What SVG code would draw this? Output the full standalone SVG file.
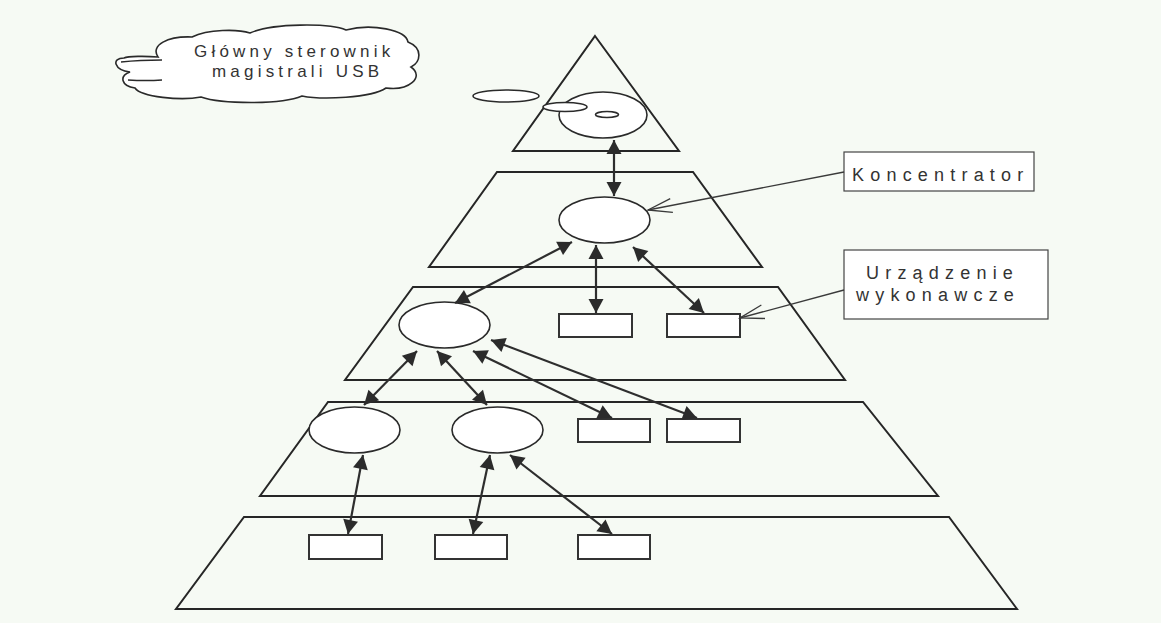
<svg xmlns="http://www.w3.org/2000/svg" width="1161" height="623" viewBox="0 0 1161 623">
  <style>
    .layer { fill: none; stroke: #262626; stroke-width: 2; stroke-linejoin: miter; }
    .node-e { fill: #ffffff; stroke: #2a2a2a; stroke-width: 1.6; }
    .node-r { fill: #ffffff; stroke: #333333; stroke-width: 2; }
    .link { fill: none; stroke: #2e2e2e; stroke-width: 2.2; marker-start: url(#head); marker-end: url(#head); }
    .pointer { fill: none; stroke: #3a3a3a; stroke-width: 1.3; marker-end: url(#open); }
    .label-box { fill: #ffffff; stroke: #444444; stroke-width: 1.2; }
    .txt { font-family: "Liberation Sans", Arial, sans-serif; fill: #333333; }
    .lbl { font-size: 18px; letter-spacing: 6.2px; }
    .cld { font-size: 17px; letter-spacing: 4.2px; }
  </style>
  <defs>
    <marker id="head" viewBox="-15 -8 16 16" refX="0" refY="0" markerWidth="16" markerHeight="16" markerUnits="userSpaceOnUse" orient="auto-start-reverse">
      <path d="M-14,-7.5 L0,0 L-14,7.5 Z" fill="#2b2b2b"/>
    </marker>
    <marker id="open" viewBox="-26 -9 28 18" refX="0" refY="0" markerWidth="28" markerHeight="18" markerUnits="userSpaceOnUse" orient="auto">
      <path d="M-24,-7 L0,0 L-24,7" fill="none" stroke="#3a3a3a" stroke-width="1.3"/>
    </marker>
  </defs>

  <rect x="0" y="0" width="1161" height="623" fill="#f6faf4"/>

  <!-- pyramid levels -->
  <g id="levels">
    <polygon id="level-0" class="layer" points="595,36 679,151 513,151"/>
    <polygon id="level-1" class="layer" points="497,172 693,172 762,267 429,267"/>
    <polygon id="level-2" class="layer" points="413,287 778,287 845,380 345,380"/>
    <polygon id="level-3" class="layer" points="328,402 863,402 938,496 260,496"/>
    <polygon id="level-4" class="layer" points="244,517 949,517 1017,609 176,609"/>
  </g>

  <!-- thought cloud with the host controller caption -->
  <g id="host-cloud">
    <path class="node-e" stroke-width="1.4" d="M158,57 C150,45 168,36 192,37 C208,29 238,29 250,33 C272,23 330,23 346,30 C372,23 406,30 408,42 C423,48 421,62 411,67 C425,77 409,91 386,88 C371,98 322,100 302,96 C281,105 221,104 201,97 C181,101 141,97 135,88 C121,86 119,76 130,72 C114,70 111,58 124,58 C128,56 146,56 158,57 Z"/>
    <path d="M121,62 Q140,60 162,60" fill="none" stroke="#2a2a2a" stroke-width="1.3"/>
    <path d="M128,80 Q146,81 162,80" fill="none" stroke="#2a2a2a" stroke-width="1.3"/>
    <text class="txt cld" x="194" y="57">Główny sterownik</text>
    <text class="txt cld" x="212" y="77" letter-spacing="3.2">magistrali USB</text>
    <ellipse class="node-e" stroke-width="1.4" cx="506" cy="96" rx="33" ry="6"/>
  </g>

  <!-- root hub (host) -->
  <g id="root-hub">
    <ellipse class="node-e" cx="603" cy="115" rx="44" ry="23"/>
    <ellipse class="node-e" stroke-width="1.3" cx="565" cy="107" rx="22" ry="4.5"/>
    <ellipse class="node-e" stroke-width="1.3" cx="607" cy="114.5" rx="11.5" ry="3"/>
  </g>

  <!-- hubs -->
  <g id="hub-1"><ellipse class="node-e" cx="604.5" cy="220" rx="45.5" ry="23"/></g>
  <g id="hub-2"><ellipse class="node-e" cx="444.5" cy="325" rx="45.5" ry="23"/></g>
  <g id="hub-3a"><ellipse class="node-e" cx="354.5" cy="430" rx="45.5" ry="23"/></g>
  <g id="hub-3b"><ellipse class="node-e" cx="497.5" cy="430" rx="45.5" ry="23"/></g>

  <!-- functions (devices) -->
  <g id="dev-2a"><rect class="node-r" x="559" y="314" width="73" height="23"/></g>
  <g id="dev-2b"><rect class="node-r" x="667" y="314" width="73" height="23"/></g>
  <g id="dev-3a"><rect class="node-r" x="578" y="419" width="72" height="23"/></g>
  <g id="dev-3b"><rect class="node-r" x="667" y="419" width="73" height="23"/></g>
  <g id="dev-4a"><rect class="node-r" x="309" y="535" width="73" height="24"/></g>
  <g id="dev-4b"><rect class="node-r" x="435" y="535" width="72" height="24"/></g>
  <g id="dev-4c"><rect class="node-r" x="578" y="535" width="72" height="24"/></g>

  <!-- caption boxes -->
  <g id="caption-hub">
    <rect class="label-box" x="844" y="152" width="190" height="39"/>
    <text class="txt lbl" x="852" y="181">Koncentrator</text>
  </g>
  <g id="caption-device">
    <rect class="label-box" x="844" y="250" width="204" height="69"/>
    <text class="txt lbl" x="866" y="279">Urządzenie</text>
    <text class="txt lbl" x="856" y="301" letter-spacing="6.9">wykonawcze</text>
  </g>

  <!-- connectors -->
  <g id="connectors">
    <line class="link" x1="614" y1="140" x2="614" y2="196"/>
    <line class="link" x1="572" y1="242" x2="455" y2="303"/>
    <line class="link" x1="596" y1="245" x2="596" y2="313"/>
    <line class="link" x1="633" y1="247" x2="704" y2="313"/>

    <line class="link" x1="417" y1="351" x2="364" y2="405"/>
    <line class="link" x1="437" y1="351" x2="487" y2="405"/>
    <line class="link" x1="473" y1="351" x2="612" y2="418"/>
    <line class="link" x1="491" y1="340" x2="697" y2="418"/>

    <line class="link" x1="363" y1="455" x2="348" y2="534"/>
    <line class="link" x1="490" y1="455" x2="473" y2="534"/>
    <line class="link" x1="510" y1="455" x2="612" y2="534"/>

    <line class="pointer" x1="844" y1="172" x2="648" y2="210"/>
    <line class="pointer" x1="844" y1="290" x2="740" y2="318"/>
  </g>
</svg>
